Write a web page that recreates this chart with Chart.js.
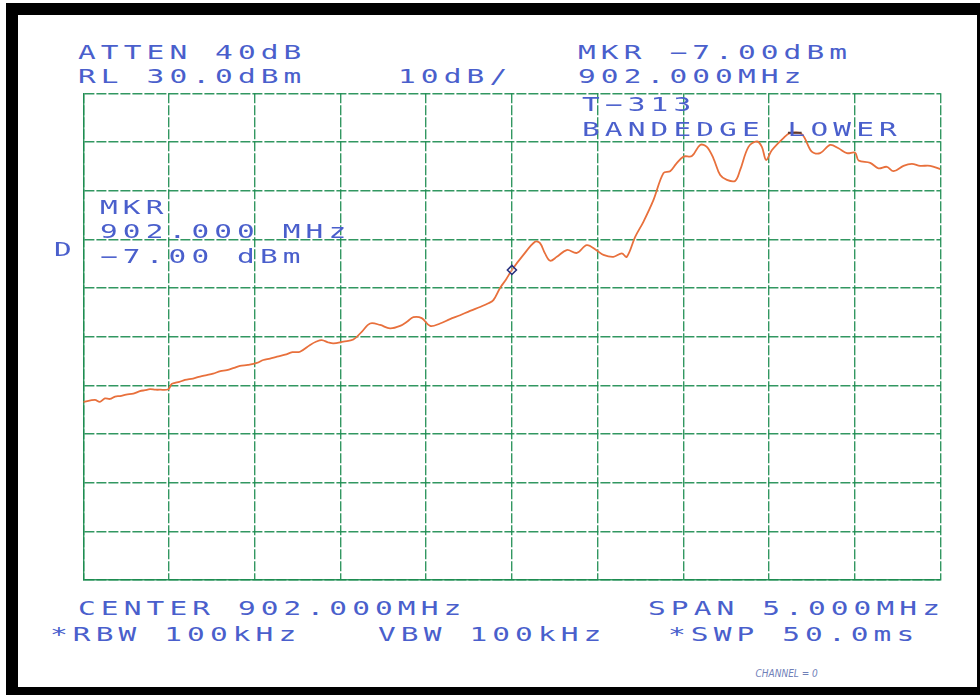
<!DOCTYPE html>
<html>
<head>
<meta charset="utf-8">
<script src="https://cdn.jsdelivr.net/npm/chart.js@4.4.1/dist/chart.umd.min.js"></script>
<style>
  html, body { margin: 0; padding: 0; background: #fff; }
  body { width: 980px; height: 696px; position: relative; overflow: hidden; }
  #frame { position: absolute; left: 6px; top: 3px; width: 959px; height: 672px;
           border-left: 12px solid #000; border-top: 12px solid #000;
           border-right: 3px solid #000; border-bottom: 8px solid #000; }
  #plot { position: absolute; left: 80px; top: 90px; width: 864px; height: 494px; }
  .t { position: absolute; font-family: "DejaVu Sans Mono", monospace; font-size: 19px;
       color: #4a5fcc; letter-spacing: 3.3px; white-space: pre; transform: scaleX(1.55);
       transform-origin: 0 0; line-height: 19px; }
  .hand { position: absolute; left: 752px; top: 668px; font-family: "DejaVu Sans", sans-serif;
          font-size: 10px; color: #7080b8; font-style: italic; transform: scaleX(0.9); }
</style>
</head>
<body>
<div id="frame"></div>
<div id="plot"><canvas id="sa"></canvas></div>
<div id="labels"></div>
<div class="hand">CHANNEL = 0</div>
<script>
// spectrum analyzer settings
var refLevel = 30;      // dBm, top of screen
var dbPerDiv = 10;
var centerMHz = 902.0;
var spanMHz = 5.0;

// trace
var freqMHz = [
  899.500, 899.568, 899.597, 899.626, 899.656, 899.685, 899.714, 899.750, 899.792, 899.830,
  899.860, 899.889, 899.920, 899.947, 899.996, 900.016, 900.035, 900.060, 900.093, 900.140,
  900.181, 900.220, 900.257, 900.300, 900.337, 900.380, 900.414, 900.460, 900.512, 900.550,
  900.589, 900.630, 900.677, 900.720, 900.764, 900.823, 900.860, 900.891, 900.930, 900.959,
  901.017, 901.075, 901.124, 901.173, 901.231, 901.289, 901.348, 901.390, 901.425, 901.474,
  901.523, 901.581, 901.639, 901.698, 901.756, 901.814, 901.860, 901.892, 901.931, 901.965,
  902.000, 902.067, 902.135, 902.164, 902.193, 902.223, 902.262, 902.320, 902.379, 902.437,
  902.495, 902.534, 902.592, 902.641, 902.670, 902.719, 902.767, 902.826, 902.884, 902.923,
  902.958, 903.001, 903.050, 903.098, 903.137, 903.176, 903.215, 903.254, 903.302, 903.331,
  903.380, 903.429, 903.458, 903.483, 903.516, 903.584, 903.623, 903.691, 903.749, 903.798,
  903.856, 903.905, 903.954, 904.002, 904.022, 904.090, 904.138, 904.187, 904.226, 904.284,
  904.333, 904.381, 904.440, 904.500
];
var levelDbm = [
  -33.4, -33.0, -33.4, -32.7, -32.8, -32.3, -32.2, -31.9, -31.7, -31.2,
  -31.0, -30.8, -30.9, -30.9, -30.8, -29.7, -29.5, -29.3, -28.9, -28.6,
  -28.2, -27.9, -27.6, -27.1, -26.9, -26.4, -26.0, -25.8, -25.4, -24.8,
  -24.5, -24.1, -23.7, -23.2, -23.1, -21.7, -21.0, -20.7, -21.2, -21.4,
  -21.0, -20.6, -19.0, -17.3, -17.6, -18.3, -17.8, -16.9, -16.0, -16.2,
  -17.8, -17.3, -16.4, -15.6, -14.7, -13.9, -13.2, -12.5, -10.0, -8.3,
  -6.3, -3.2, -0.5, -0.8, -2.9, -4.4, -3.6, -2.2, -2.8, -1.2,
  -2.3, -3.2, -3.6, -2.9, -3.6, 0.5, 3.6, 8.1, 13.6, 14.0,
  15.5, 17.0, 17.1, 19.4, 19.0, 16.6, 13.2, 12.2, 12.0, 14.2,
  19.0, 20.1, 19.0, 16.3, 18.3, 20.8, 21.8, 21.6, 18.0, 17.7,
  19.4, 18.7, 17.7, 17.8, 16.2, 15.7, 14.6, 14.9, 14.0, 15.1,
  15.5, 15.1, 15.1, 14.4
];

// marker and peak
var markerFreq = [902.000];
var markerLevel = [-6.3];
var peakFreq = [903.610, 903.690];
var peakLevel = [21.9, 21.9];

// screen annotations
var annotations = [
  ["ATTEN 40dB", 78, 43],
  ["RL 30.0dBm", 78, 67],
  ["10dB/", 398, 67],
  ["MKR \u22127.00dBm", 578, 43],
  ["902.000MHz", 578, 67],
  ["T\u2212313", 582, 95],
  ["BANDEDGE LOWER", 582, 120],
  ["MKR", 100, 198],
  ["902.000 MHz", 100, 222],
  ["D", 54, 240],
  ["\u22127.00 dBm", 100, 247],
  ["CENTER 902.000MHz", 78, 599],
  ["SPAN 5.000MHz", 648, 599],
  ["*RBW 100kHz", 50, 625],
  ["VBW 100kHz", 378, 625],
  ["*SWP 50.0ms", 668, 625]
];

var box = document.getElementById('labels');
annotations.forEach(function (a) {
  var d = document.createElement('div');
  d.className = 't';
  d.textContent = a[0];
  d.style.left = a[1] + 'px';
  d.style.top = a[2] + 'px';
  box.appendChild(d);
});

var trace = freqMHz.map(function (f, i) { return { x: f, y: levelDbm[i] }; });
var mkr = markerFreq.map(function (f, i) { return { x: f, y: markerLevel[i] }; });
var pk = peakFreq.map(function (f, i) { return { x: f, y: peakLevel[i] }; });

var gridGreen = 'rgba(28,140,80,0.9)';

var ctx = document.getElementById('sa').getContext('2d');
var chart = new Chart(ctx, {
  type: 'line',
  data: {
    datasets: [{
      data: mkr,
      showLine: false,
      pointStyle: 'rectRot',
      pointRadius: 4.5,
      borderColor: '#28307e',
      backgroundColor: 'rgba(255,255,255,0.2)',
      borderWidth: 1.6
    }, {
      data: pk,
      borderColor: '#5a3a30',
      borderWidth: 2,
      pointRadius: 0
    }, {
      data: trace,
      borderColor: '#e8703c',
      borderWidth: 1.8,
      tension: 0.35,
      pointRadius: 0
    }]
  },
  options: {
    responsive: true,
    maintainAspectRatio: false,
    animation: false,
    layout: { autoPadding: false, padding: { left: 3.3, top: 3.3, right: 3.5, bottom: 4 } },
    plugins: { legend: { display: false }, tooltip: { enabled: false } },
    scales: {
      x: {
        type: 'linear',
        min: centerMHz - spanMHz / 2,
        max: centerMHz + spanMHz / 2,
        ticks: { display: false, stepSize: spanMHz / 10 },
        grid: { color: gridGreen, lineWidth: 1.4, drawTicks: false },
        border: { display: true, color: gridGreen, width: 1.4, dash: [10, 2] }
      },
      y: {
        min: refLevel - 10 * dbPerDiv,
        max: refLevel,
        ticks: { display: false, stepSize: dbPerDiv },
        grid: { color: gridGreen, lineWidth: 1.4, drawTicks: false },
        border: { display: true, color: gridGreen, width: 1.4, dash: [10, 2] }
      }
    }
  }
});
</script>
</body>
</html>
